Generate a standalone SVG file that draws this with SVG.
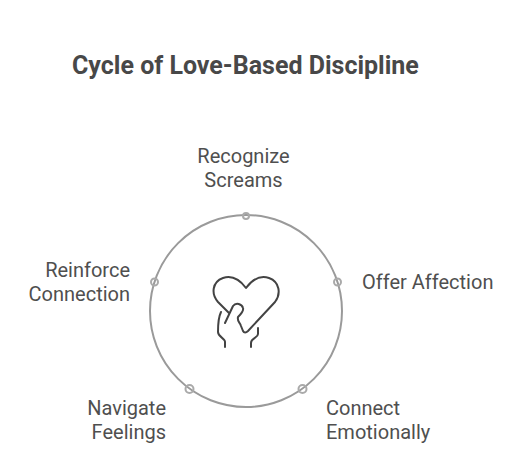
<svg xmlns="http://www.w3.org/2000/svg" width="528" height="470" viewBox="0 0 528 470">
<style>
.t{font-family:Roboto,"Liberation Sans",sans-serif;font-size:20px;fill:#4f4f4f}
.title{font-family:Roboto,"Liberation Sans",sans-serif;font-size:25px;font-weight:700;fill:#484848}
.ring{fill:none;stroke:#9a9a9a;stroke-width:2}
.dot{fill:none;stroke:#aaaaaa;stroke-width:2}
.ic{fill:none;stroke:#434343;stroke-width:2;stroke-linecap:round;stroke-linejoin:round}
</style>
<rect width="528" height="470" fill="#fff"/>
<text id="title" class="title" x="72" y="74">Cycle of Love-Based Discipline</text>
<g id="connectors"><circle class="ring" cx="246" cy="311" r="96"/></g>
<g id="n1"><circle class="dot" cx="246" cy="216" r="3"/><text class="t" text-anchor="middle" x="243.500" y="163">Recognize</text><text class="t" text-anchor="middle" x="243.500" y="187">Screams</text></g>
<g id="n2"><circle class="dot" cx="337.500" cy="282" r="3.500"/><text class="t" x="362" y="289">Offer Affection</text></g>
<g id="n3"><circle class="dot" cx="302.500" cy="389" r="4"/><text class="t" x="326" y="415">Connect</text><text class="t" x="326" y="439">Emotionally</text></g>
<g id="n4"><circle class="dot" cx="189.500" cy="389" r="4"/><text class="t" text-anchor="end" x="166" y="415">Navigate</text><text class="t" text-anchor="end" x="166" y="439">Feelings</text></g>
<g id="n5"><circle class="dot" cx="154.500" cy="282" r="3.500"/><text class="t" text-anchor="end" x="130" y="277">Reinforce</text><text class="t" text-anchor="end" x="130" y="301">Connection</text></g>
<g id="icon">
<path class="ic" d="M229 313L218 302C211 294 212 282 223 278C232 275 240 280 246 288C252 280 260 275 269 278C280 282 281 294 275 302L248 331C246 333 244 333 243 331L241 326C240 322 237 322 238 317C241 314 244 311 243 308C242 304 236 302 233 306L225 323"/>
<path class="ic" d="M221 312C218 318 218 327 218 332C218 337 225 338 225 342V347"/>
<path class="ic" d="M258 328V334C258 338 251 338 251 343V347"/>
</g>
</svg>
